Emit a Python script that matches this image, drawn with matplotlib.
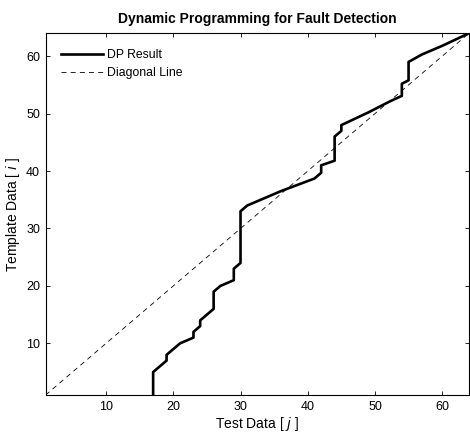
import numpy as np
from matplotlib import pyplot as plt

plt.rcParams['font.family'] = ['Liberation Sans', 'DejaVu Sans']

# DP warping path: test index j, template index i
dp_j = [17, 17, 19, 19, 20, 21, 23, 23, 24, 24, 26, 26, 27, 29, 29, 30, 30, 31,
        36, 41, 42, 42, 44, 44, 45, 45, 49, 52, 54, 54, 55, 55, 57, 60, 64]
dp_i = [1, 5, 7, 8, 9, 10, 11, 12, 13, 14, 16, 19, 20, 21, 23, 24, 33, 34,
        36.5, 38.7, 39.7, 41, 41.8, 46, 47, 48, 50.2, 52, 53.1, 55.2, 55.8, 59,
        60.3, 61.8, 64]
diag = [1, 64]

xticks = [10, 20, 30, 40, 50, 60]
yticks = [10, 20, 30, 40, 50, 60]


def main():
    fig = plt.figure(figsize=(4.7, 4.37), dpi=100)
    ax = fig.add_axes([0.097, 0.096, 0.901, 0.828])

    ax.plot(dp_j, dp_i, color='black', lw=1.9, label='DP Result',
            solid_joinstyle='round')
    ax.plot(diag, diag, color='black', lw=0.6, ls=(0, (6, 5)),
            label='Diagonal Line')

    ax.set_xlim(1, 64)
    ax.set_ylim(1, 64)
    ax.set_xticks(xticks)
    ax.set_yticks(yticks)
    ax.tick_params(direction='in', top=True, right=True, length=3,
                   width=0.6, labelsize=9, pad=4)
    for s in ax.spines.values():
        s.set_linewidth(0.8)

    ax.set_title('Dynamic Programming for Fault Detection', fontsize=10,
                 fontweight='bold', pad=7)
    ax.set_xlabel(r'Test Data [ $\it{j}$ ]', fontsize=10, labelpad=2)
    ax.set_ylabel(r'Template Data [ $\it{i}$ ]', fontsize=10, labelpad=3)

    ax.legend(loc='upper left', frameon=False, fontsize=8.8, handlelength=3.4,
              handletextpad=0.3, borderaxespad=0.9, labelspacing=0.5)

    fig.savefig('out.png', dpi=100)


if __name__ == '__main__':
    main()
